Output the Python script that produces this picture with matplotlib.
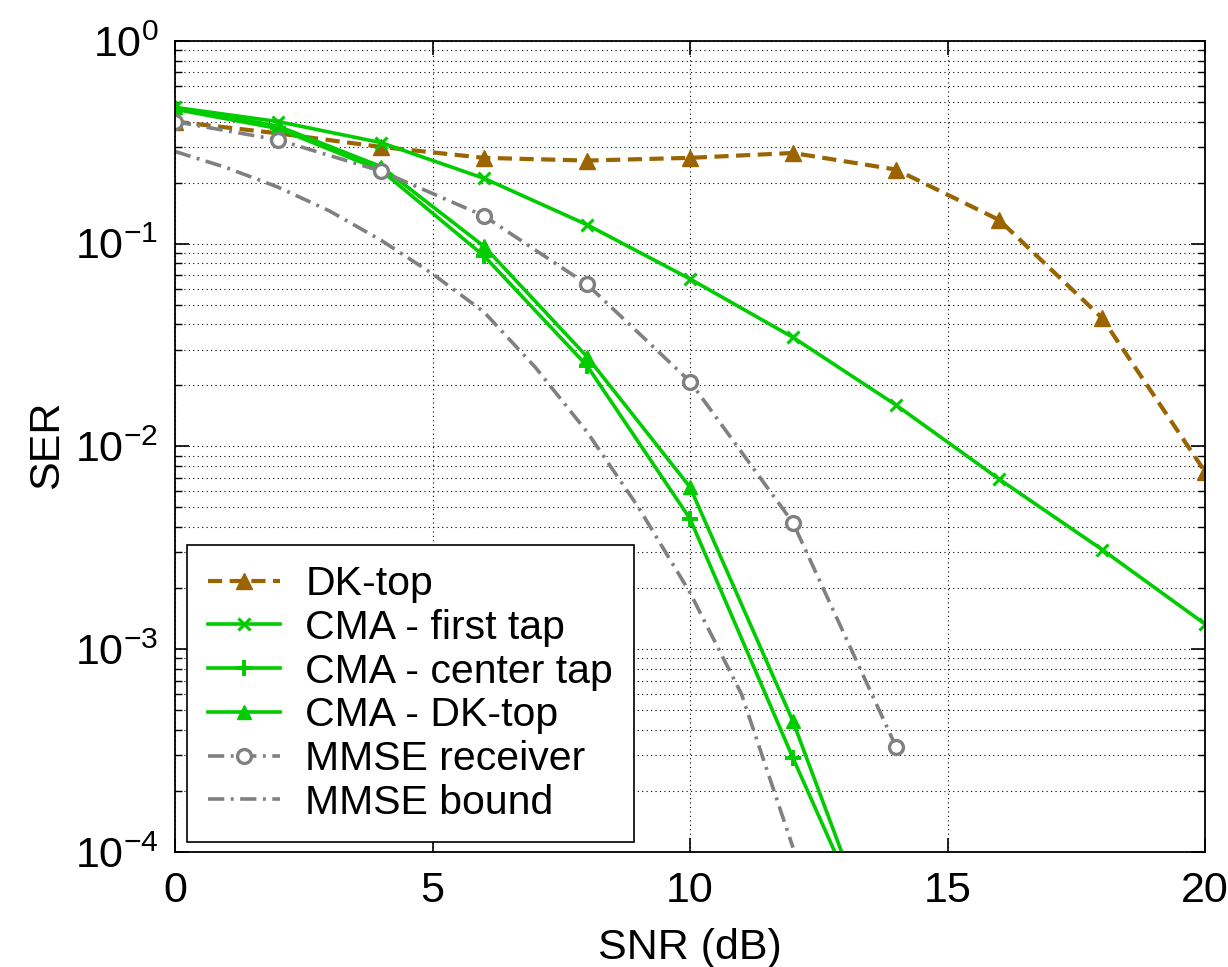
import numpy as np
import matplotlib
matplotlib.use("Agg")
import matplotlib.pyplot as plt

plt.rcParams.update({
    "font.family": ["Liberation Sans", "DejaVu Sans"],
    "mathtext.default": "regular",
    "axes.linewidth": 1.3,
})

BROWN, GREEN, GREY = "#9a6400", "#00cc00", "#808080"

snr = [0, 2, 4, 6, 8, 10, 12, 14, 16, 18, 20]
dk_top = [0.40, 0.35, 0.30, 0.265, 0.257, 0.265, 0.280, 0.232, 0.131, 0.043, 0.0075]
cma_first = [0.47, 0.40, 0.315, 0.21, 0.124, 0.067, 0.0345, 0.016, 0.0069, 0.0031, 0.00133]

snr_cma = [0, 2, 4, 6, 8, 10, 12, 14]
cma_center = [0.46, 0.37, 0.23, 0.087, 0.025, 0.0044, 0.00029, 0.000021]
cma_dk = [0.47, 0.38, 0.24, 0.097, 0.0277, 0.0063, 0.00044, 0.000019]

snr_rx = [0, 2, 4, 6, 8, 10, 12, 14]
mmse_rx = [0.40, 0.325, 0.228, 0.137, 0.063, 0.0209, 0.0042, 0.00033]

snr_bound = [0, 1, 2, 3, 4, 5, 6, 7, 8, 9, 10, 11, 12]
mmse_bound = [0.285, 0.237, 0.19, 0.145, 0.104, 0.071, 0.046, 0.0245, 0.0118,
              0.005, 0.0019, 0.0006, 0.000105]

fig = plt.figure(figsize=(12.28, 9.67), dpi=100)
ax = fig.add_axes([0.1425, 0.119, 0.8388, 0.8387])

ax.semilogy(snr, dk_top, color=BROWN, lw=3.0, ls=(0, (3.4, 1.8)), marker="^", ms=11,
            mfc=BROWN, mec=BROWN, label="DK-top")
ax.semilogy(snr, cma_first, color=GREEN, lw=2.6, marker="x", ms=8, mew=2.2,
            label="CMA - first tap")
ax.semilogy(snr_cma, cma_center, color=GREEN, lw=2.6, marker="+", ms=11, mew=2.8,
            label="CMA - center tap")
ax.semilogy(snr_cma, cma_dk, color=GREEN, lw=2.6, marker="^", ms=10, mfc=GREEN,
            mec=GREEN, label="CMA - DK-top")
ax.semilogy(snr_rx, mmse_rx, color=GREY, lw=2.6, ls=(0, (4.5, 1.8, 0.8, 1.8)), marker="o",
            ms=10, mfc="white", mec=GREY, mew=2.4, label="MMSE receiver")
ax.semilogy(snr_bound, mmse_bound, color=GREY, lw=2.6, ls=(0, (4.5, 1.8, 0.8, 1.8)),
            label="MMSE bound")

ax.set_xlim(0, 20)
ax.set_ylim(1e-4, 1)
ax.set_xticks([0, 5, 10, 15, 20])
ax.grid(True, which="major", color="black", ls=(0, (1, 3)), lw=0.8)
ax.grid(True, which="minor", axis="y", color="black", ls=(0, (1, 3)), lw=0.8)
ax.tick_params(which="both", direction="in", top=True, right=True, labelsize=31)
ax.tick_params(axis="x", pad=14)
ax.tick_params(axis="y", pad=12)
ax.tick_params(which="major", length=10, width=1.2)
ax.tick_params(which="minor", length=5, width=1.0)

fig.text(690 / 1228, 1 - 948 / 967, "SNR (dB)", fontsize=31, ha="center", va="center")
fig.text(47 / 1228, 1 - 445 / 967, "SER", fontsize=31, ha="center", va="center",
         rotation=90)

leg = ax.legend(loc="lower left", fontsize=29.5, frameon=True, fancybox=False,
                edgecolor="black", framealpha=1, handlelength=1.75, handletextpad=0.63,
                labelspacing=0.14, borderpad=0.5, borderaxespad=0,
                bbox_to_anchor=(0.012, 0.012))
leg.get_frame().set_linewidth(1.2)

fig.savefig("out.png", dpi=100, facecolor="white")
